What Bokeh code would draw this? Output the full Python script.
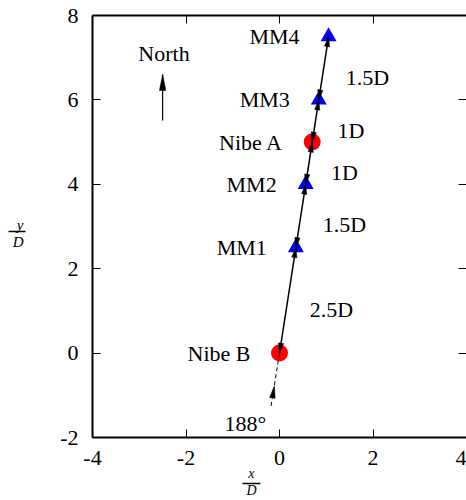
import math
from bokeh.plotting import figure
from bokeh.models import ColumnDataSource, LinearAxis, FixedTicker, Range1d
from bokeh.core.properties import value
from bokeh.embed import file_html
from bokeh.resources import INLINE

# ---------------- data ----------------
stations = ["Nibe B", "MM1", "MM2", "Nibe A", "MM3", "MM4"]
station_x = [0.0, 0.35, 0.56, 0.70, 0.84, 1.05]
station_y = [0.0, 2.5, 4.0, 5.0, 6.0, 7.5]
station_kind = ["turbine", "mast", "mast", "turbine", "mast", "mast"]
spacing = ["2.5D", "1.5D", "1D", "1D", "1.5D"]
x_ticks = [-4, -2, 0, 2, 4]
y_ticks = [-2, 0, 2, 4, 6, 8]
x_label = ("x", "D")
y_label = ("y", "D")
wind_label = "188°"
wind_start = (-0.18, -1.25)
wind_head = (-0.11, -0.78)
wind_label_pos = (-0.73, -1.68)
north_label = "North"
north_label_pos = (-2.47, 7.09)
north_from = (-2.5, 5.51)
north_to = (-2.5, 6.60)

# ---------------- layout ----------------
W, H = 466, 500
LEFT, RIGHT, TOP, BOTTOM = 92, 0, 15, 63
FW, FH = W - LEFT - RIGHT, H - TOP - BOTTOM
X0, X1, Y0, Y1 = -4, 4, -2, 8
KX, KY = FW / (X1 - X0), FH / (Y1 - Y0)
FONT = "Liberation Serif"

p = figure(width=W, height=H, x_range=Range1d(X0, X1), y_range=Range1d(Y0, Y1),
           output_backend="svg", toolbar_location=None,
           min_border_left=LEFT, min_border_right=RIGHT,
           min_border_top=TOP, min_border_bottom=BOTTOM)
p.outline_line_color = None
p.xgrid.visible = False
p.ygrid.visible = False
p.background_fill_color = "white"
p.border_fill_color = "white"


def base_axis(ax):
    ax.axis_line_width = 2
    ax.axis_line_color = "black"
    ax.major_tick_in = 8
    ax.major_tick_out = 0
    ax.major_tick_line_width = 1
    ax.minor_tick_in = 0
    ax.minor_tick_out = 0
    ax.major_label_text_font = FONT
    ax.major_label_text_font_size = "22px"
    ax.major_label_text_color = "black"


xa = p.xaxis[0]
ya = p.yaxis[0]
xa.ticker = FixedTicker(ticks=x_ticks)
ya.ticker = FixedTicker(ticks=y_ticks)
base_axis(xa)
base_axis(ya)
xa.major_label_overrides = {t: str(t) for t in x_ticks}
ya.major_label_overrides = {t: str(t) for t in y_ticks}
xa.major_label_standoff = 13
ya.major_label_standoff = 14

# mirrored ticks (minor ticks only -> no labels)
top_ax = LinearAxis(ticker=FixedTicker(ticks=[], minor_ticks=x_ticks))
top_ax.axis_line_width = 2
top_ax.axis_line_color = "black"
top_ax.major_tick_in = 0
top_ax.major_tick_out = 0
top_ax.minor_tick_in = 8
top_ax.minor_tick_out = 0
top_ax.minor_tick_line_width = 1
top_ax.major_label_standoff = 0
p.add_layout(top_ax, "above")

right_ax = LinearAxis(ticker=FixedTicker(ticks=[], minor_ticks=y_ticks))
right_ax.axis_line_color = None
right_ax.major_tick_in = 0
right_ax.major_tick_out = 0
right_ax.minor_tick_in = 8
right_ax.minor_tick_out = 0
right_ax.minor_tick_line_width = 1
right_ax.major_label_standoff = 0
p.add_layout(right_ax, "right")


# ---------------- axis titles drawn as fractions ----------------
def frac_axis(ticks, minor, overrides, standoff, size="14px"):
    ax = LinearAxis(ticker=FixedTicker(ticks=ticks, minor_ticks=minor))
    ax.axis_line_color = None
    ax.major_tick_in = 0
    ax.major_tick_out = 0
    ax.major_tick_line_color = None
    ax.minor_tick_in = 0
    ax.minor_tick_out = 0
    ax.major_label_overrides = overrides
    ax.major_label_standoff = standoff
    ax.major_label_text_font = FONT
    ax.major_label_text_font_style = "italic"
    ax.major_label_text_font_size = size
    ax.major_label_text_color = "black"
    return ax


# x/D below the x axis
XC = -0.6
ax_num = frac_axis([XC], [], {XC: x_label[0]}, -2)
p.add_layout(ax_num, "below")
ax_den = frac_axis([XC], [], {XC: x_label[1]}, -1)
ax_den.bounds = (XC - 9 / KX, XC + 9 / KX)
ax_den.axis_line_color = "black"
ax_den.axis_line_width = 1.5
p.add_layout(ax_den, "below")

# y/D left of the y axis (fraction bar = one minor tick)
YN, YB, YD = 3.03, 2.88, 2.64
ax_y = frac_axis([YN, YD], [YB], {YN: y_label[0], YD: y_label[1]}, 2, "15px")
ax_y.minor_tick_in = -49
ax_y.minor_tick_out = 32
ax_y.minor_tick_line_width = 1.5
ax_y.minor_tick_line_color = "black"
p.add_layout(ax_y, "left")

# ---------------- markers ----------------
tx = [x for x, k in zip(station_x, station_kind) if k == "turbine"]
ty = [y for y, k in zip(station_y, station_kind) if k == "turbine"]
mx = [x for x, k in zip(station_x, station_kind) if k == "mast"]
my = [y for y, k in zip(station_y, station_kind) if k == "mast"]
p.scatter(tx, ty, marker="circle", size=17, fill_color="#ff0000", line_color=None)
p.scatter(mx, my, marker="triangle", size=16, fill_color="#0000ff", line_color=None)


def head(xs, ys, xt, yt, L, Wd):
    dx, dy = (xt - xs) * KX, (yt - ys) * KY
    n = math.hypot(dx, dy)
    ux, uy = dx / n, dy / n
    bx, by = -ux * L, -uy * L
    px, py = -uy * Wd, ux * Wd
    return ([xt, xt + (bx + px) / KX, xt + (bx - px) / KX],
            [yt, yt + (by + py) / KY, yt + (by - py) / KY])


# ---------------- spacing arrows ----------------
seg = ColumnDataSource(dict(x0=station_x[:-1], y0=station_y[:-1],
                            x1=station_x[1:], y1=station_y[1:]))
p.segment("x0", "y0", "x1", "y1", source=seg, line_color="black", line_width=1.5)
hx, hy = [], []
for a in range(len(station_x) - 1):
    xa_, ya_, xb_, yb_ = station_x[a], station_y[a], station_x[a + 1], station_y[a + 1]
    h1 = head(xa_, ya_, xb_, yb_, 10, 2.6)
    h2 = head(xb_, yb_, xa_, ya_, 10, 2.6)
    hx += [h1[0], h2[0]]
    hy += [h1[1], h2[1]]

# wind direction (dashed)
p.line([wind_start[0], station_x[0]], [wind_start[1], station_y[0]],
       line_color="black", line_width=1, line_dash="4 3")
h = head(wind_start[0], wind_start[1], wind_head[0], wind_head[1], 12, 2.8)
hx.append(h[0]); hy.append(h[1])

# north arrow
p.line([north_from[0], north_to[0]], [north_from[1], north_to[1]],
       line_color="black", line_width=1.2)
h = head(north_from[0], north_from[1], north_to[0], north_to[1], 16, 3.2)
hx.append(h[0]); hy.append(h[1])

p.patches(hx, hy, fill_color="black", line_color="black", line_width=0.5)

# ---------------- texts ----------------
p.text(station_x, station_y, text=stations, x_offset=-29, text_align="right",
       text_baseline="middle", text_font=value(FONT), text_font_size="22px",
       text_color="black")
mid_x = [(a + b) / 2 for a, b in zip(station_x[:-1], station_x[1:])]
mid_y = [(a + b) / 2 for a, b in zip(station_y[:-1], station_y[1:])]
p.text(mid_x, mid_y, text=spacing, x_offset=22, y_offset=9, text_align="left",
       text_baseline="middle", text_font=value(FONT), text_font_size="22px",
       text_color="black")
p.text([north_label_pos[0]], [north_label_pos[1]], text=[north_label],
       text_align="center", text_baseline="middle", text_font=value(FONT),
       text_font_size="22px", text_color="black")
p.text([wind_label_pos[0]], [wind_label_pos[1]], text=[wind_label],
       text_align="center", text_baseline="middle", text_font=value(FONT),
       text_font_size="22px", text_color="black")

open("out.html", "w").write(file_html(p, INLINE))
